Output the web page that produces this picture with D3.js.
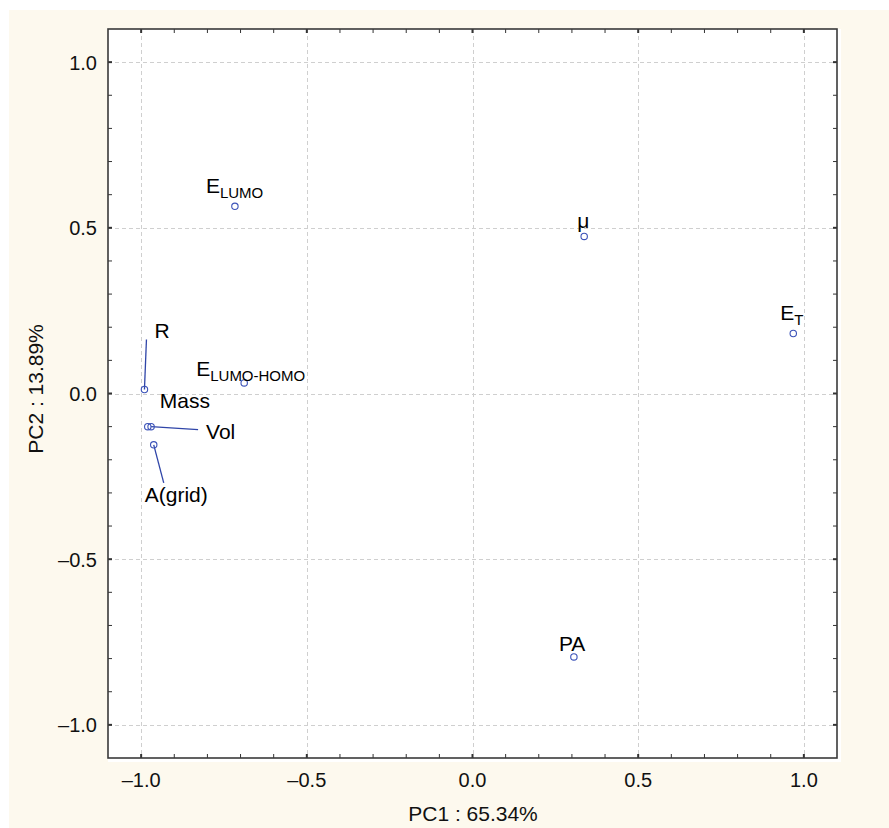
<!DOCTYPE html>
<html>
<head>
<meta charset="utf-8">
<script src="https://cdn.jsdelivr.net/npm/d3@7"></script>
<style>
  body { margin: 0; background: #ffffff; }
  svg { display: block; font-family: "Liberation Sans", Arial, sans-serif; }
</style>
</head>
<body>
<div id="chart"></div>
<script>
//~~~~~~~~~~~~~~~~~~~~~~~~~~~~~~~~~~~~
// Data (PCA loadings)
//~~~~~~~~~~~~~~~~~~~~~~~~~~~~~~~~~~~~
const names = ["E", "μ", "E", "R", "E", "Mass", "Vol", "A(grid)", "PA"];
const subs = ["LUMO", "", "T", "", "LUMO-HOMO", "", "", "", ""];
const pc1 = [-0.717, 0.337, 0.968, -0.990, -0.689, -0.980, -0.970, -0.962, 0.306];
const pc2 = [0.565, 0.474, 0.181, 0.012, 0.032, -0.100, -0.100, -0.155, -0.795];
const majorTicks = [-1.0, -0.5, 0.0, 0.5, 1.0];
const xTitle = "PC1 : 65.34%";
const yTitle = "PC2 : 13.89%";

// label placement relative to each point (px) and leader line ends
const labelOffsets = [[-29, -13], [-7, -8], [-13, -14], [10, -52], [-48, -7], [12, -19], [55, 12], [-9, 57], [-15, -6]];
const leaders = [null, null, null, [2, -50], null, null, [47, 3], [10, 38], null];

//~~~~~~~~~~~~~~~~~~~~~~~~~~~~~~~~~~~~
// Chart
//~~~~~~~~~~~~~~~~~~~~~~~~~~~~~~~~~~~~
function createChart() {
    const width = 889, height = 828;
    const left = 108, right = 837, top = 29, bottom = 758;

    const x = d3.scaleLinear().domain([-1.1, 1.1]).range([left, right]);
    const y = d3.scaleLinear().domain([-1.1, 1.1]).range([bottom, top]);
    const fmt = d => d3.format(".1f")(d).replace("−", "–").replace("-", "–");
    const minorTicks = d3.range(-11, 12).map(i => i / 10);

    const svg = d3.select("#chart").append("svg")
        .attr("width", width)
        .attr("height", height);

    svg.append("rect")
        .attr("x", 9).attr("y", 10)
        .attr("width", width - 9).attr("height", height - 10)
        .attr("fill", "#fdf9ee");

    svg.append("rect")
        .attr("x", left).attr("y", top)
        .attr("width", right - left + 4).attr("height", bottom - top + 4)
        .attr("fill", "#ffffff");

    // grid
    const grid = svg.append("g")
        .attr("stroke", "#cfcfcf")
        .attr("stroke-width", 1)
        .attr("stroke-dasharray", "4,3");
    grid.selectAll(".gx").data(majorTicks).join("line")
        .attr("x1", d => Math.round(x(d)) + 0.5).attr("x2", d => Math.round(x(d)) + 0.5)
        .attr("y1", top).attr("y2", bottom);
    grid.selectAll(".gy").data(majorTicks).join("line")
        .attr("y1", d => Math.round(y(d)) + 0.5).attr("y2", d => Math.round(y(d)) + 0.5)
        .attr("x1", left).attr("x2", right);

    // ticks, inward on all four sides
    const tickG = svg.append("g").attr("stroke", "#333");
    const isMajor = d => Math.abs(d * 2 - Math.round(d * 2)) < 1e-6;
    const tk = minorTicks.filter(d => d > -1.1 + 1e-6 && d < 1.1 - 1e-6);
    [[bottom, -4], [top, 4]].forEach(([yy, len]) => {
        tickG.selectAll(null).data(tk).join("line")
            .attr("x1", d => x(d)).attr("x2", d => x(d))
            .attr("y1", yy).attr("y2", yy + len)
            .attr("stroke-width", d => isMajor(d) ? 2 : 1);
    });
    [[left, 4], [right, -4]].forEach(([xx, len]) => {
        tickG.selectAll(null).data(tk).join("line")
            .attr("y1", d => y(d)).attr("y2", d => y(d))
            .attr("x1", xx).attr("x2", xx + len)
            .attr("stroke-width", d => isMajor(d) ? 2 : 1);
    });

    // frame
    svg.append("rect")
        .attr("x", left).attr("y", top)
        .attr("width", right - left).attr("height", bottom - top)
        .attr("fill", "none")
        .attr("stroke", "#3a3a3a")
        .attr("stroke-width", 1.6);

    // tick labels
    svg.append("g").selectAll("text").data(majorTicks).join("text")
        .attr("x", d => x(d)).attr("y", 787)
        .attr("text-anchor", "middle")
        .attr("font-size", 20)
        .attr("fill", "#111")
        .text(fmt);
    svg.append("g").selectAll("text").data(majorTicks).join("text")
        .attr("x", 97).attr("y", d => y(d) + 7.5)
        .attr("text-anchor", "end")
        .attr("font-size", 20)
        .attr("fill", "#111")
        .text(fmt);

    // axis titles
    svg.append("text")
        .attr("x", 473).attr("y", 821)
        .attr("text-anchor", "middle")
        .attr("font-size", 21)
        .attr("fill", "#111")
        .text(xTitle);
    svg.append("text")
        .attr("transform", `translate(43,389) rotate(-90)`)
        .attr("text-anchor", "middle")
        .attr("font-size", 21)
        .attr("fill", "#111")
        .text(yTitle);

    const pts = names.map((n, i) => ({name: n, sub: subs[i], px: x(pc1[i]), py: y(pc2[i]), off: labelOffsets[i], lead: leaders[i]}));

    // leader lines
    svg.append("g").selectAll("line").data(pts.filter(d => d.lead)).join("line")
        .attr("x1", d => d.px).attr("y1", d => d.py)
        .attr("x2", d => d.px + d.lead[0]).attr("y2", d => d.py + d.lead[1])
        .attr("stroke", "#2f45a8")
        .attr("stroke-width", 1.3);

    // points
    svg.append("g").selectAll("circle").data(pts).join("circle")
        .attr("cx", d => d.px).attr("cy", d => d.py)
        .attr("r", 3.2)
        .attr("fill", "none")
        .attr("stroke", "#3b52b8")
        .attr("stroke-width", 1.1);

    // labels
    const lab = svg.append("g").selectAll("text").data(pts).join("text")
        .attr("x", d => d.px + d.off[0]).attr("y", d => d.py + d.off[1])
        .attr("font-size", 21)
        .attr("fill", "#000");
    lab.append("tspan").text(d => d.name);
    lab.filter(d => d.sub).append("tspan")
        .attr("font-size", 15)
        .attr("dy", 5)
        .text(d => d.sub);
}

document.addEventListener("DOMContentLoaded", createChart);
</script>
</body>
</html>
